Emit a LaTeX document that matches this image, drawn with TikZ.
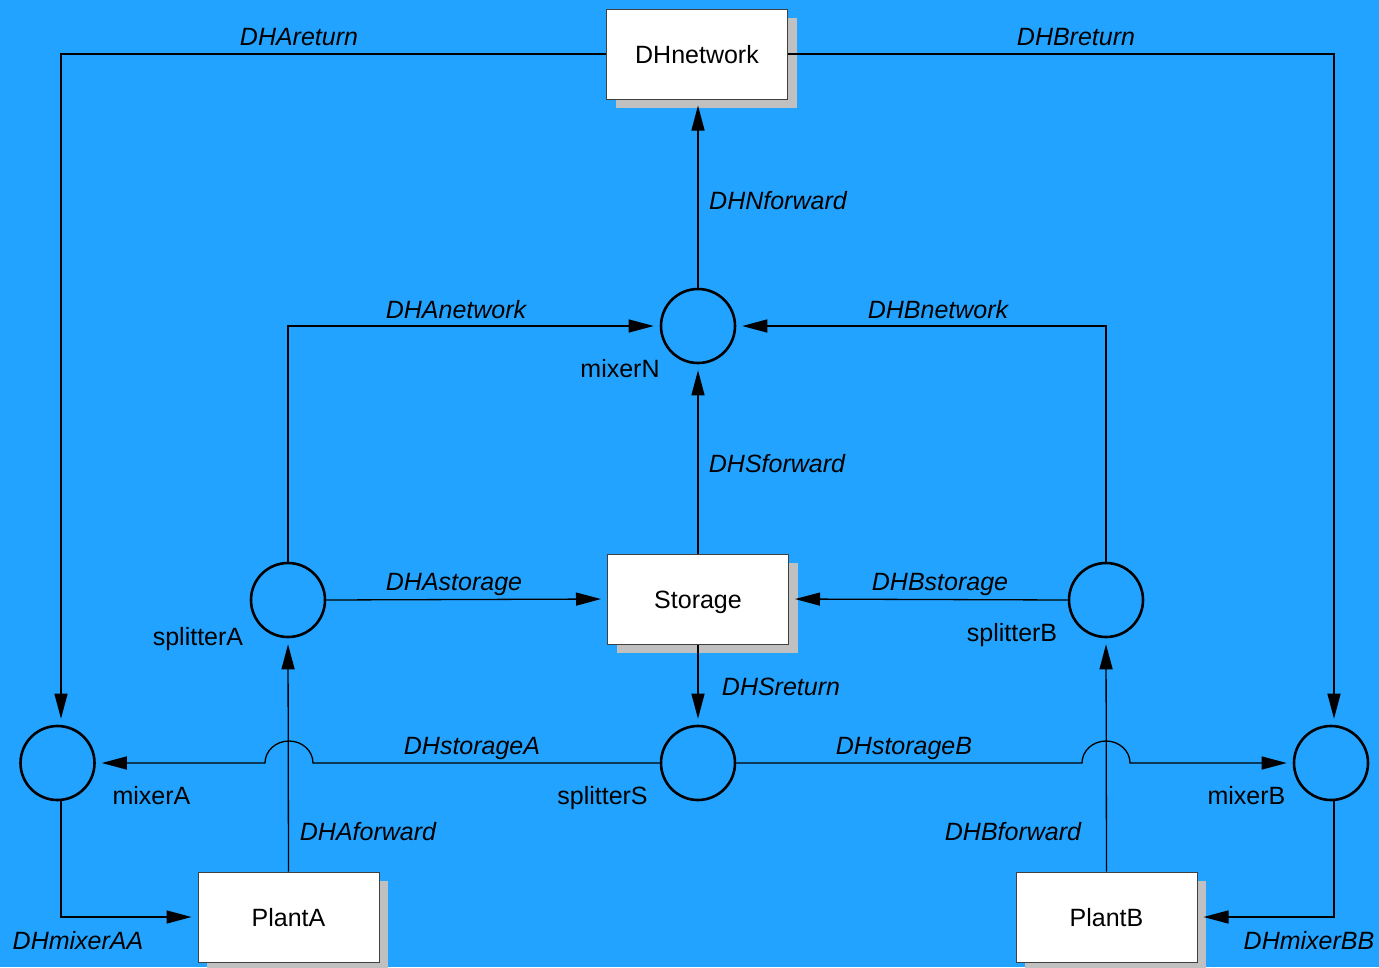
\documentclass[tikz,border=0pt]{standalone}
\usepackage{fontspec}
\setmainfont{Liberation Sans}
\usetikzlibrary{arrows.meta,shadows}
\definecolor{bgblue}{RGB}{34,163,255}
\definecolor{shadowgray}{RGB}{192,192,192}
\definecolor{boxedge}{RGB}{64,64,64}
\tikzset{
  unit/.style={draw=boxedge, line width=1pt, fill=white, rectangle,
    minimum width=181pt, minimum height=90pt, inner sep=0pt,
    text height=18pt, text depth=0pt,
    general shadow={fill=shadowgray, shadow xshift=9pt, shadow yshift=-9pt},
    font=\fontsize{25}{30}\selectfont},
  junction/.style={draw=black, line width=2.6pt, circle, minimum size=74pt, inner sep=0pt},
  pipe/.style={draw=black, line width=1.3pt},
  flow/.style={pipe, -{Triangle[length=25pt,width=13pt]}, shorten >=6pt},
  flowlbl/.style={font=\fontsize{25}{30}\selectfont\itshape, anchor=base, inner sep=0pt},
  junclbl/.style={font=\fontsize{25}{30}\selectfont, anchor=base, inner sep=0pt},
}
\begin{document}
\begin{tikzpicture}[x=1pt, y=-1pt]
  \useasboundingbox[fill=bgblue] (0,0) rectangle (1379,967);

  % units
  \node[unit] (DHnetwork) at (697,54)   {DHnetwork};
  \node[unit] (Storage)   at (698,599)  {Storage};
  \node[unit] (PlantA)    at (288.5,917) {PlantA};
  \node[unit] (PlantB)    at (1106.5,917) {PlantB};

  % mixers and splitters
  \node[junction] (mixerN)    at (698,326)  {};
  \node[junction] (splitterA) at (288,600)  {};
  \node[junction] (splitterB) at (1106,600) {};
  \node[junction] (mixerA)    at (57.5,763) {};
  \node[junction] (splitterS) at (698,763)  {};
  \node[junction] (mixerB)    at (1331,763) {};

  \node[junclbl] (tmixerN)    at (620,377)  {mixerN};
  \node[junclbl] (tsplitterA) at (198,645)  {splitterA};
  \node[junclbl] (tsplitterB) at (1012,641) {splitterB};
  \node[junclbl] (tmixerA)    at (151.5,804) {mixerA};
  \node[junclbl] (tsplitterS) at (602.5,804) {splitterS};
  \node[junclbl] (tmixerB)    at (1246.5,804) {mixerB};

  % return pipes from the network
  \draw[flow] (DHnetwork.west) -| ([xshift=3.5pt]mixerA.north);
  \draw[flow] (DHnetwork.east) -| ([xshift=3pt]mixerB.north);
  \node[flowlbl] (lDHAreturn) at (299,45) {DHAreturn};
  \node[flowlbl] (lDHBreturn) at (1076,45) {DHBreturn};

  % network supply
  \draw[flow] (mixerN.north) -- (mixerN.north |- DHnetwork.south);
  \node[flowlbl] (lDHNforward) at (778,209) {DHNforward};

  \draw[flow] (splitterA.north) |- (mixerN.west);
  \draw[flow] (splitterB.north) |- (mixerN.east);
  \node[flowlbl] (lDHAnetwork) at (456,318) {DHAnetwork};
  \node[flowlbl] (lDHBnetwork) at (938,318) {DHBnetwork};

  \draw[flow] (Storage.north) -- (mixerN.south);
  \node[flowlbl] (lDHSforward) at (777,472) {DHSforward};

  % storage charging
  \draw[flow] (splitterA.east) -- (Storage.west);
  \draw[flow] (splitterB.west) -- (Storage.east);
  \node[flowlbl] (lDHAstorage) at (454,590) {DHAstorage};
  \node[flowlbl] (lDHBstorage) at (940,590) {DHBstorage};

  \draw[flow] (Storage.south) -- (splitterS.north);
  \node[flowlbl] (lDHSreturn) at (781,695) {DHSreturn};

  % storage discharge, hopping over the plant supply lines
  \coordinate (hopA) at (313,763);
  \coordinate (hopB) at (1130,763);
  \draw[flow] (splitterS.west) -- (hopA)
    arc[start angle=0, end angle=180, x radius=24pt, y radius=22pt] -- (mixerA.east);
  \draw[flow] (splitterS.east) -- ([xshift=-48pt]hopB)
    arc[start angle=180, end angle=0, x radius=24pt, y radius=22pt] -- (mixerB.west);
  \node[flowlbl] (lDHstorageA) at (472,754) {DHstorageA};
  \node[flowlbl] (lDHstorageB) at (904,754) {DHstorageB};

  % plant supply
  \draw[flow] (PlantA.north) -- (splitterA.south);
  \draw[flow] (PlantB.north) -- (splitterB.south);
  \node[flowlbl] (lDHAforward) at (368,840) {DHAforward};
  \node[flowlbl] (lDHBforward) at (1013,840) {DHBforward};

  % mixer returns to plants
  \draw[flow] ([xshift=3.5pt]mixerA.south) |- (PlantA.west);
  \draw[flow] ([xshift=3pt]mixerB.south) |- (PlantB.east);
  \node[flowlbl] (lDHmixerAA) at (78,949) {DHmixerAA};
  \node[flowlbl] (lDHmixerBB) at (1309,949) {DHmixerBB};
\end{tikzpicture}
\end{document}
